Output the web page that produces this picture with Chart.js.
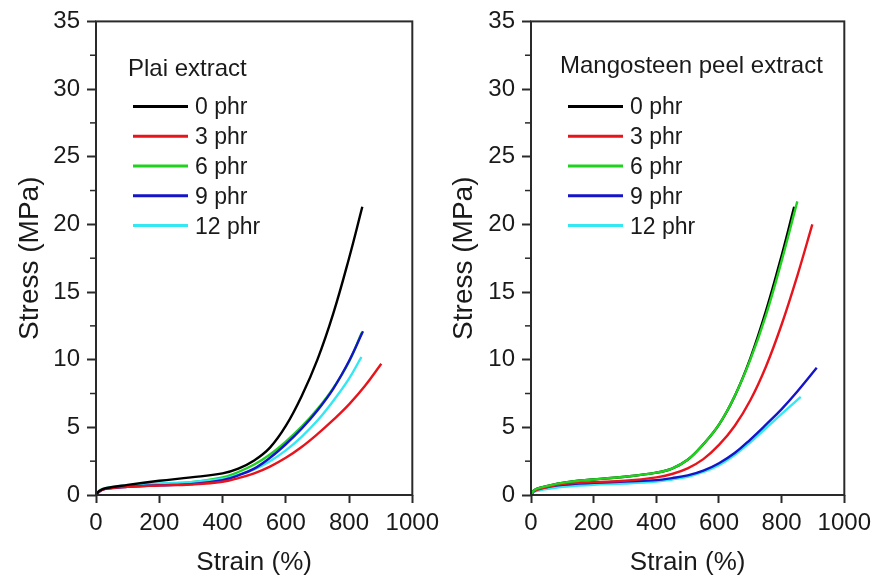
<!DOCTYPE html>
<html lang="en">
<head>
<meta charset="UTF-8">
<title>Stress-strain curves</title>
<script src="https://cdn.jsdelivr.net/npm/chart.js@4.4.1/dist/chart.umd.min.js"></script>
<style>
  body { margin: 0; background: #fff; width: 877px; height: 581px; overflow: hidden; position: relative; }
  canvas { position: absolute; top: 0; }
  #plai { left: 0; }
  #mango { left: 438px; }
</style>
</head>
<body>
<canvas id="plai" width="445" height="581"></canvas>
<canvas id="mango" width="439" height="581"></canvas>
<script>
// series labels and colours
const seriesLabels = ['0 phr', '3 phr', '6 phr', '9 phr', '12 phr'];
const seriesColors = ['#000000', '#e8141c', '#1ed21e', '#1414c8', '#33e8f2'];

// axis ticks
const strainTicks = [0, 200, 400, 600, 800, 1000];
const stressTicks = [0, 5, 10, 15, 20, 25, 30, 35];
const stressMinor = [2.5, 7.5, 12.5, 17.5, 22.5, 27.5, 32.5];

// Plai extract, [strain %, stress MPa]
const plai0 = [[0,0],[10,0.3],[30,0.5],[100,0.75],[200,1.05],[300,1.3],[400,1.6],[450,1.95],[500,2.55],[550,3.5],[600,5.1],[650,7.3],[700,10.0],[750,13.4],[800,17.5],[842,21.3]];
const plai3 = [[0,0],[10,0.25],[30,0.45],[100,0.6],[200,0.7],[300,0.78],[400,0.98],[450,1.25],[500,1.6],[550,2.1],[600,2.75],[650,3.55],[700,4.5],[750,5.55],[800,6.7],[850,8.05],[902,9.7]];
const plai6 = [[0,0],[10,0.3],[30,0.5],[100,0.65],[200,0.8],[300,0.95],[400,1.3],[450,1.7],[500,2.25],[550,3.0],[600,3.95],[650,5.05],[700,6.35],[750,7.9],[800,9.85],[840,12.0]];
const plai9 = [[0,0],[10,0.25],[30,0.45],[100,0.6],[200,0.72],[300,0.8],[400,1.1],[450,1.45],[500,1.95],[550,2.75],[600,3.75],[650,4.9],[700,6.25],[750,7.85],[800,9.9],[844,12.1]];
const plai12 = [[0,0],[10,0.3],[30,0.5],[100,0.7],[200,0.85],[300,0.95],[400,1.2],[450,1.5],[500,1.9],[550,2.5],[600,3.3],[650,4.3],[700,5.5],[750,6.95],[800,8.6],[839,10.2]];

// Mangosteen peel extract
const mango0 = [[0,0],[10,0.35],[30,0.55],[100,0.9],[200,1.15],[300,1.35],[400,1.65],[450,1.95],[500,2.6],[550,3.75],[600,5.2],[650,7.3],[700,10.1],[750,13.6],[800,17.7],[840,21.3]];
const mango3 = [[0,0],[10,0.3],[30,0.45],[100,0.8],[200,0.95],[300,1.05],[400,1.3],[450,1.55],[500,1.97],[550,2.65],[600,3.7],[650,5.1],[700,7.0],[750,9.5],[800,12.6],[850,16.2],[898,20.0]];
const mango6 = [[0,0],[10,0.35],[30,0.55],[100,0.9],[200,1.15],[300,1.35],[400,1.65],[450,1.95],[500,2.6],[550,3.75],[600,5.2],[650,7.3],[700,10.0],[750,13.3],[800,17.3],[850,21.7]];
const mango9 = [[0,0],[10,0.3],[30,0.5],[100,0.75],[200,0.9],[300,1.0],[400,1.1],[450,1.25],[500,1.45],[550,1.8],[600,2.35],[650,3.1],[700,4.1],[750,5.2],[800,6.35],[850,7.65],[912,9.4]];
const mango12 = [[0,0],[10,0.25],[30,0.35],[100,0.6],[200,0.75],[300,0.85],[400,1.0],[450,1.15],[500,1.35],[550,1.7],[600,2.2],[650,2.95],[700,3.9],[750,4.95],[800,6.0],[861,7.25]];

const textColor = '#1a1a1a';
const lineColor = '#2a2a2a';
const fontFamily = '"Liberation Sans", Arial, sans-serif';

// frame, minor ticks and the inside legend
const framePlugin = {
  id: 'frame',
  afterDatasetsDraw(chart, args, opts) {
    const ctx = chart.ctx;
    const a = chart.chartArea;
    const y = chart.scales.y;
    ctx.save();
    ctx.strokeStyle = lineColor;
    ctx.lineWidth = 2;
    ctx.strokeRect(a.left, a.top, a.right - a.left, a.bottom - a.top);
    ctx.lineWidth = 1.5;
    stressMinor.forEach(v => {
      const py = y.getPixelForValue(v);
      ctx.beginPath();
      ctx.moveTo(a.left - 6, py);
      ctx.lineTo(a.left, py);
      ctx.stroke();
    });

    // legend
    ctx.fillStyle = textColor;
    ctx.textBaseline = 'alphabetic';
    ctx.font = '24px ' + fontFamily;
    ctx.fillText(opts.title, a.left + opts.titleDx, a.top + opts.titleDy);
    ctx.font = '23px ' + fontFamily;
    chart.data.datasets.forEach((ds, i) => {
      const ry = a.top + 85 + i * 29.8;
      ctx.strokeStyle = ds.borderColor;
      ctx.lineWidth = 3;
      ctx.beginPath();
      ctx.moveTo(a.left + 37, ry);
      ctx.lineTo(a.left + 92, ry);
      ctx.stroke();
      ctx.fillText(ds.label, a.left + 99, ry + 8);
    });
    ctx.restore();
  }
};

function makeChart(id, title, seriesData, orders, yWidth, padRight, yTitlePad, titleDx, titleDy) {
  const datasets = seriesData.map((pts, i) => ({
    label: seriesLabels[i],
    data: pts.map(p => ({x: p[0], y: p[1]})),
    borderColor: seriesColors[i],
    backgroundColor: seriesColors[i],
    borderWidth: 2.4,
    pointRadius: 0,
    tension: 0.4,
    order: orders[i]
  }));
  return new Chart(document.getElementById(id), {
    type: 'line',
    data: { datasets },
    plugins: [framePlugin],
    options: {
      responsive: false,
      animation: false,
      devicePixelRatio: 1,
      layout: { padding: { left: 0, right: padRight, top: 20, bottom: 0 } },
      plugins: {
        legend: { display: false },
        tooltip: { enabled: false },
        frame: { title: title, titleDx: titleDx, titleDy: titleDy }
      },
      scales: {
        x: {
          type: 'linear',
          min: 0, max: 1000,
          afterBuildTicks: s => { s.ticks = strainTicks.map(v => ({value: v})); },
          afterFit: s => { s.height = 86; },
          grid: { drawOnChartArea: false, drawTicks: true, tickLength: 8, tickColor: lineColor, tickWidth: 2 },
          border: { display: false },
          ticks: { color: textColor, padding: 6, maxRotation: 0, callback: v => String(v),
                   font: { family: fontFamily, size: 24 } },
          title: { display: true, text: 'Strain (%)', color: textColor, padding: { top: 0, bottom: 3 },
                   font: { family: fontFamily, size: 26 } }
        },
        y: {
          type: 'linear',
          min: 0, max: 35,
          afterBuildTicks: s => { s.ticks = stressTicks.map(v => ({value: v})); },
          afterFit: s => { s.width = yWidth; },
          grid: { drawOnChartArea: false, drawTicks: true, tickLength: 9, tickColor: lineColor, tickWidth: 2 },
          border: { display: false },
          ticks: { color: textColor, padding: 7, callback: v => String(v),
                   font: { family: fontFamily, size: 24 } },
          title: { display: true, text: 'Stress (MPa)', color: textColor, padding: { top: yTitlePad, bottom: 0 },
                   font: { family: fontFamily, size: 28 } }
        }
      }
    }
  });
}

makeChart('plai', 'Plai extract', [plai0, plai3, plai6, plai9, plai12], [1, 2, 5, 3, 4], 96, 32, 13, 32, 55);
makeChart('mango', 'Mangosteen peel extract', [mango0, mango3, mango6, mango9, mango12], [5, 2, 1, 3, 4], 93, 29, 9, 29, 52);
</script>
</body>
</html>
